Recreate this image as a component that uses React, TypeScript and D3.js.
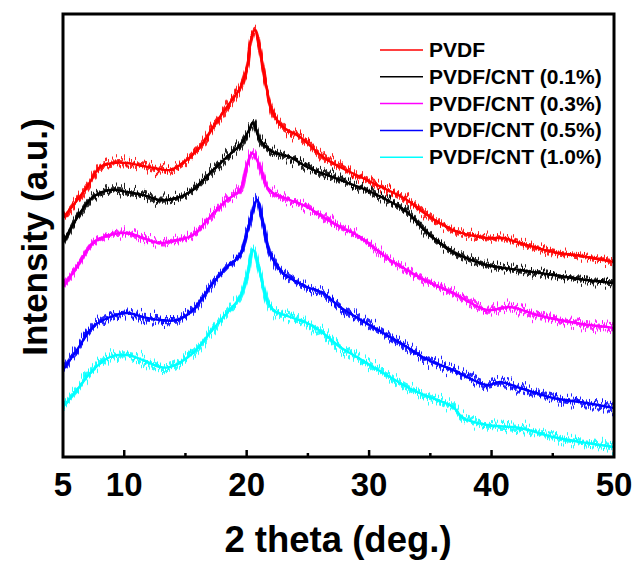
import React from "react";
import * as d3 from "d3";

const seriesNames = ["PVDF", "PVDF/CNT (0.1%)", "PVDF/CNT (0.3%)", "PVDF/CNT (0.5%)", "PVDF/CNT (1.0%)"];
const seriesColors = ["#ff0000", "#000000", "#ff00ff", "#0000ff", "#00ffff"];

const pvdfTheta = [5, 6.96, 8.02, 9.08, 10.23, 11.53, 12.92, 13.74, 14.8, 16.19, 17.25, 18.39, 19.46, 20.03, 20.35, 20.68, 21.09, 21.5, 22.15, 22.97, 24.36, 26.23, 27.62, 30.32, 33.09, 34.5, 36.85, 39.63, 40.94, 42.32, 45.02, 47.79, 50];
const pvdfI = [239, 270, 290, 294, 294, 291, 288, 287, 294, 310, 330, 350, 369, 390, 417, 427, 407, 377, 344, 330, 320, 300, 290, 274, 257, 244, 227, 219, 219, 214, 205, 200, 195];

const cnt01Theta = [5, 6.39, 7.45, 8.84, 10.23, 11.53, 12.92, 14.31, 15.62, 17.0, 18.39, 19.46, 20.11, 20.52, 21.09, 22.15, 23.54, 24.93, 27.62, 30.32, 33.09, 34.5, 36.85, 39.63, 42.32, 45.02, 47.79, 50];
const cnt01I = [214, 244, 260, 267, 265, 262, 257, 259, 267, 284, 300, 312, 325, 334, 317, 305, 300, 290, 277, 264, 245, 227, 205, 192, 187, 182, 177, 174];

const cnt03Theta = [5, 6.14, 7.45, 8.84, 10.23, 11.53, 12.92, 14.31, 15.62, 17.0, 18.39, 19.46, 20.03, 20.44, 21.09, 21.66, 22.15, 23.54, 24.93, 26.23, 27.62, 29.0, 30.32, 31.71, 33.09, 34.5, 36.85, 39.63, 41.51, 43.71, 46.4, 50];
const cnt03I = [170, 190, 214, 222, 224, 219, 214, 217, 222, 240, 257, 267, 292, 304, 290, 270, 264, 257, 250, 240, 230, 222, 210, 197, 187, 177, 164, 147, 150, 142, 135, 129];

const cnt05Theta = [5, 6.14, 7.45, 8.84, 10.23, 11.53, 12.92, 14.31, 15.62, 17.0, 18.39, 19.46, 20.03, 20.35, 20.84, 21.33, 21.9, 22.97, 24.93, 26.23, 27.62, 30.32, 33.09, 34.5, 36.85, 39.63, 40.69, 42.32, 45.02, 47.79, 50];
const cnt05I = [87, 107, 130, 140, 144, 140, 137, 137, 147, 170, 190, 202, 225, 239, 257, 234, 204, 184, 170, 164, 150, 130, 110, 99, 87, 72, 75, 69, 59, 54, 49];

const cnt10Theta = [5, 6.14, 7.45, 8.84, 10.23, 11.53, 12.92, 13.74, 15.62, 17.0, 18.39, 19.46, 20.03, 20.52, 21.09, 21.66, 22.15, 23.54, 24.93, 26.23, 27.62, 29.0, 30.32, 31.71, 33.09, 34.5, 36.85, 37.67, 39.63, 42.32, 45.02, 47.79, 50];
const cnt10I = [50, 67, 87, 100, 102, 97, 90, 90, 104, 124, 144, 160, 180, 207, 184, 157, 147, 140, 134, 124, 110, 100, 90, 80, 70, 62, 50, 39, 32, 29, 20, 14, 10];

const seriesTheta = [pvdfTheta, cnt01Theta, cnt03Theta, cnt05Theta, cnt10Theta];
const seriesI = [pvdfI, cnt01I, cnt03I, cnt05I, cnt10I];

const xTickLabels = [5, 10, 20, 30, 40, 50];
const xMajorTicks = [10, 20, 30, 40];
const xMinorTicks = [15, 25, 35, 45];

const W = 637;
const H = 565;
const M = { left: 63, right: 614, top: 14, bottom: 457 };
const FONT = "Arial, 'Liberation Sans', Helvetica, sans-serif";

const jitterSeeds = [3, 11];
const jitterFreq = ["0.9 0.004", "0.7 0.004"];

export default function App() {
  const x = d3.scaleLinear().domain([5, 50]).range([M.left, M.right]);
  const y = d3.scaleLinear().domain([0, 443]).range([M.bottom, M.top]);
  const line = d3
    .line<[number, number]>()
    .x((d) => x(d[0]))
    .y((d) => y(d[1]))
    .curve(d3.curveCatmullRom.alpha(0.5));

  return (
    <svg width={W} height={H} style={{ position: "absolute", left: 0, top: 0, background: "#fff" }}>
      <defs>
        <clipPath id="plotclip">
          <rect x={M.left} y={M.top} width={M.right - M.left} height={M.bottom - M.top} />
        </clipPath>
        {jitterSeeds.map((s, k) => (
          <filter key={"f" + k} id={"jitter" + k} x="-5%" y="-15%" width="110%" height="130%" filterUnits="objectBoundingBox">
            <feTurbulence type="fractalNoise" baseFrequency={jitterFreq[k]} numOctaves={2} seed={s} result="t" />
            <feColorMatrix in="t" type="matrix" values="0 0 0 0 0.5  0 1 0 0 0  0 0 1 0 0  0 0 0 0 1" result="m" />
            <feDisplacementMap in="SourceGraphic" in2="m" scale={22} xChannelSelector="R" yChannelSelector="G" />
          </filter>
        ))}
      </defs>
      <g clipPath="url(#plotclip)">
        {seriesNames.map((name, i) => {
          const pts = seriesTheta[i].map((t, j) => [t, seriesI[i][j]] as [number, number]);
          const d = line(pts) || "";
          return (
            <g key={name}>
              <path d={d} fill="none" stroke={seriesColors[i]} strokeWidth={2.4} strokeLinejoin="round" />
              {jitterSeeds.map((s, k) => (
                <path key={k} d={d} fill="none" stroke={seriesColors[i]} strokeWidth={3.2} strokeOpacity={0.85} filter={`url(#jitter${k})`} />
              ))}
            </g>
          );
        })}
      </g>
      {/* frame */}
      <rect x={M.left} y={M.top} width={M.right - M.left} height={M.bottom - M.top} fill="none" stroke="#000" strokeWidth={3} />
      {/* ticks */}
      {xMajorTicks.map((t) => (
        <line key={"M" + t} x1={x(t)} x2={x(t)} y1={M.bottom} y2={M.bottom - 7} stroke="#000" strokeWidth={2.5} />
      ))}
      {xMinorTicks.map((t) => (
        <line key={"m" + t} x1={x(t)} x2={x(t)} y1={M.bottom} y2={M.bottom - 4} stroke="#000" strokeWidth={2.5} />
      ))}
      {xTickLabels.map((t) => (
        <text key={"l" + t} x={x(t)} y={496} textAnchor="middle" fontFamily={FONT} fontWeight="bold" fontSize={33} fill="#000">
          {t}
        </text>
      ))}
      <text x={338} y={552} textAnchor="middle" fontFamily={FONT} fontWeight="bold" fontSize={36.5} fill="#000">
        2 theta (deg.)
      </text>
      <text
        transform={`translate(47, 237) rotate(-90)`}
        textAnchor="middle"
        fontFamily={FONT}
        fontWeight="bold"
        fontSize={35}
        fill="#000"
      >
        Intensity (a.u.)
      </text>
      {/* legend */}
      {seriesNames.map((name, i) => {
        const cy = 50 + i * 26.8;
        return (
          <g key={"lg" + name}>
            <line x1={380} x2={423} y1={cy} y2={cy} stroke={seriesColors[i]} strokeWidth={1.5} />
            <text x={429} y={cy + 7} fontFamily={FONT} fontWeight="bold" fontSize={21} fill="#000">
              {name}
            </text>
          </g>
        );
      })}
    </svg>
  );
}
